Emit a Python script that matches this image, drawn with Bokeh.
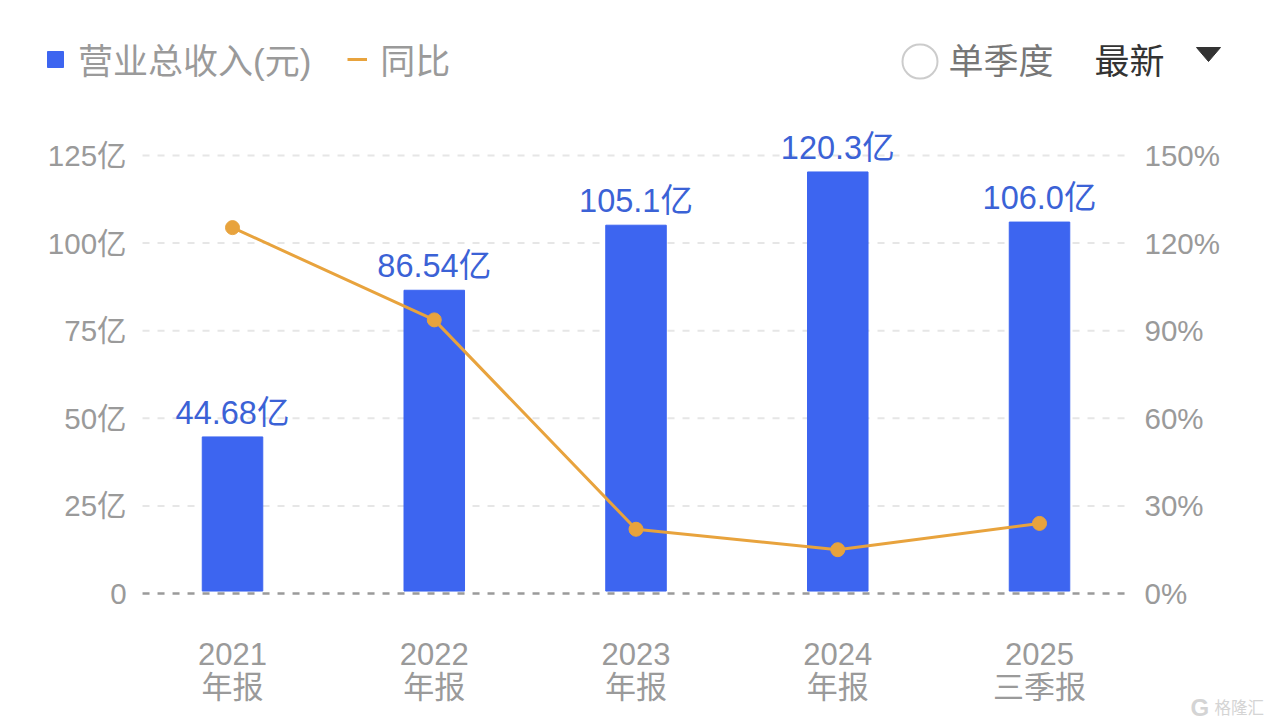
from bokeh.core.properties import value
from bokeh.embed import file_html
from bokeh.models import (
    BoxAnnotation, ColumnDataSource, FixedTicker, Label, Legend, LegendItem,
    LinearAxis, PolyAnnotation, Range1d
)
from bokeh.plotting import figure
from bokeh.resources import INLINE

# data
years = ["2021\n年报", "2022\n年报", "2023\n年报", "2024\n年报", "2025\n三季报"]
revenue = [44.68, 86.54, 105.1, 120.3, 106.0]
revenue_labels = ["44.68亿", "86.54亿", "105.1亿", "120.3亿", "106.0亿"]
yoy = [125.3, 93.7, 22.0, 15.0, 24.0]
left_ticks = [0, 25, 50, 75, 100, 125]
left_tick_labels = ["0", "25亿", "50亿", "75亿", "100亿", "125亿"]
right_ticks = [0, 30, 60, 90, 120, 150]
right_tick_labels = ["0%", "30%", "60%", "90%", "120%", "150%"]

BLUE = "#3d65f0"
ORANGE = "#e8a33d"
GREY = "#9a9a9a"
FONT = "Liberation Sans, Noto Sans CJK SC"

WIDTH = 1268
HEIGHT = 725

xs = list(range(len(years)))
source = ColumnDataSource(data=dict(x=xs, revenue=revenue, label=revenue_labels, yoy=[v / 1.2 for v in yoy]))

# the frame fills the page, the axes are pinned inside it with fixed_location
p = figure(
    width=WIDTH, height=HEIGHT,
    x_range=(-1.15, 5.135), y_range=(-37.67, 169.23),
    output_backend="svg", toolbar_location=None,
    min_border=0,
)
p.outline_line_color = None
p.grid.visible = False

# x extent of the dashed rules
x_min, x_max = -0.446, 4.436
p.segment(x0=x_min, x1=x_max, y0=left_ticks[1:], y1=left_ticks[1:],
          line_color="#e6e6e6", line_width=2, line_dash="7 8")

bars = p.vbar(x="x", top="revenue", bottom=0.7, width=0.3, color=BLUE, source=source)
p.segment(x0=x_min, x1=x_max, y0=0, y1=0, line_color=GREY, line_width=2.5, line_dash="7 8")
line = p.line(x="x", y="yoy", color=ORANGE, line_width=3, source=source)
p.scatter(x="x", y="yoy", size=14, color=ORANGE, source=source)

p.text(x="x", y="revenue", text="label", source=source, text_color="#3b62d6",
       text_font=value(FONT), text_font_size="32.5px", text_align="center",
       text_baseline="bottom", y_offset=-6)

# axes
p.xaxis.ticker = FixedTicker(ticks=xs)
p.xaxis.major_label_overrides = dict(zip(xs, years))
p.xaxis.fixed_location = -2
p.yaxis.ticker = FixedTicker(ticks=left_ticks)
p.yaxis.major_label_overrides = dict(zip(left_ticks, left_tick_labels))
p.yaxis.fixed_location = x_min

p.extra_y_ranges = {"yoy": Range1d(-45.2, 203.08)}
right_axis = LinearAxis(y_range_name="yoy", ticker=FixedTicker(ticks=right_ticks), fixed_location=x_max)
right_axis.major_label_overrides = dict(zip(right_ticks, right_tick_labels))
p.add_layout(right_axis, "right")

for axis in p.axis:
    axis.axis_line_color = None
    axis.major_tick_line_color = None
    axis.minor_tick_line_color = None
    axis.major_tick_out = 0
    axis.major_label_text_color = GREY
    axis.major_label_text_font = FONT
    axis.major_label_text_font_size = "29.5px"
p.yaxis[0].major_label_standoff = 16
right_axis.major_label_standoff = 17
p.xaxis.major_label_standoff = 36
p.xaxis.major_label_text_font_size = "31px"
p.xaxis.major_label_text_line_height = 0.95

# header
legend = Legend(
    items=[LegendItem(label="营业总收入(元)", renderers=[bars]), LegendItem(label="同比", renderers=[line])],
    orientation="horizontal", location=(45, HEIGHT - 84),
    border_line_color=None, background_fill_color=None, padding=0, margin=0,
    glyph_width=20, glyph_height=20, label_standoff=13, spacing=36,
    label_text_font=FONT, label_text_font_size="35px", label_text_color=GREY,
)
p.add_layout(legend, "center")


def header_label(text, x, y, color, size="35px", **kw):
    return Label(text=text, x=x, y=HEIGHT - y, x_units="screen", y_units="screen",
                 text_font=FONT, text_font_size=size, text_color=color,
                 text_baseline="middle", **kw)


p.add_layout(header_label("单季度", 948, 61, "#777777"))
p.add_layout(header_label("最新", 1094, 61, "#333333"))
p.add_layout(header_label("格隆汇", 1214, 707, "#d4d4d4", size="16.5px"))
p.add_layout(header_label("G", 1190, 707, "#d4d4d4", size="24px", text_font_style="bold"))

p.add_layout(BoxAnnotation(
    left=902, right=937, top=HEIGHT - 44, bottom=HEIGHT - 78,
    left_units="screen", right_units="screen", top_units="screen", bottom_units="screen",
    fill_color="white", fill_alpha=1, line_color="#cccccc", line_alpha=1, line_width=2, border_radius=17,
))
p.add_layout(PolyAnnotation(
    xs=[1196, 1220, 1208],
    ys=[HEIGHT - 47, HEIGHT - 47, HEIGHT - 61],
    xs_units="screen", ys_units="screen",
    fill_color="#333333", fill_alpha=1, line_color="#333333", line_alpha=1,
))

open("out.html", "w").write(file_html(p, INLINE))
